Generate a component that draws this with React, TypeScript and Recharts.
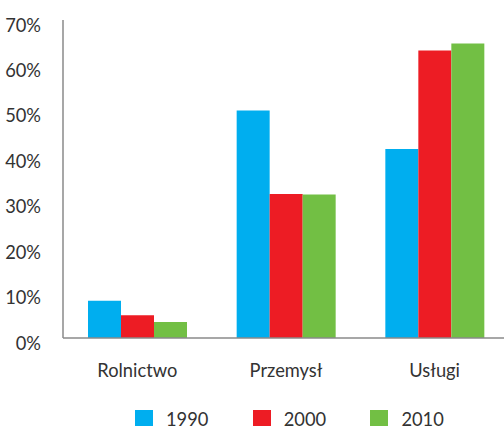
import { BarChart, Bar, XAxis, YAxis, Legend } from "recharts";

// sectors on the x axis
const sectors = ["Rolnictwo", "Przemysł", "Usługi"];

// share of employment (%) per year
const y1990 = [8.2, 50.1, 41.6];
const y2000 = [5.0, 31.7, 63.3];
const y2010 = [3.5, 31.6, 64.8];

const yTicks = [0, 10, 20, 30, 40, 50, 60, 70];

const series = [
    { key: "1990", color: "#00AEEF" },
    { key: "2000", color: "#ED1C24" },
    { key: "2010", color: "#72BF44" }
];

const data = sectors.map((name, i) => ({
    name,
    "1990": y1990[i],
    "2000": y2000[i],
    "2010": y2010[i]
}));

const FONT = "Lato, 'Open Sans', sans-serif";
const TEXT = "#333333";
const AXIS = "#8a8a8a";
const FS = 18.3;

const YTick = (props: any) => {
    const { x, y, payload } = props;
    return (
        <text x={x} y={y} dy={11.5} textAnchor="end" fill={TEXT} fontSize={FS} fontFamily={FONT}>
            {payload.value}%
        </text>
    );
};

const LegendContent = () => (
    <div style={{ display: "flex", fontFamily: FONT, fontSize: FS, color: TEXT, lineHeight: "22px" }}>
        {series.map(s => (
            <div key={s.key} style={{ display: "flex", alignItems: "center", width: 117.7 }}>
                <span style={{ width: 18, height: 18, background: s.color, display: "inline-block", marginRight: 13 }} />
                <span>{s.key}</span>
            </div>
        ))}
    </div>
);

const App = () => {
    return (
        <div style={{ position: "absolute", left: 0, top: 0, width: 504, height: 426, overflow: "hidden", background: "#fff" }}>
            <BarChart
                width={509}
                height={426}
                data={data}
                margin={{ top: 20, right: 0, left: 0, bottom: 36 }}
                barCategoryGap={25}
                barGap={0}
            >
                <XAxis
                    dataKey="name"
                    tickLine={false}
                    tickMargin={20}
                    stroke={AXIS}
                    strokeWidth={1.5}
                    tick={{ fill: TEXT, fontSize: FS, fontFamily: FONT }}
                />
                <YAxis
                    width={63}
                    domain={[0, 70]}
                    ticks={yTicks}
                    interval={0}
                    tickLine={false}
                    tickMargin={16}
                    stroke={AXIS}
                    strokeWidth={1.5}
                    tick={<YTick />}
                />
                <Legend
                    content={<LegendContent />}
                    wrapperStyle={{ position: "absolute", left: 135, top: 408, width: 369, bottom: "auto" }}
                />
                {series.map(s => (
                    <Bar key={s.key} dataKey={s.key} fill={s.color} isAnimationActive={false} />
                ))}
            </BarChart>
        </div>
    );
};

export default App;
